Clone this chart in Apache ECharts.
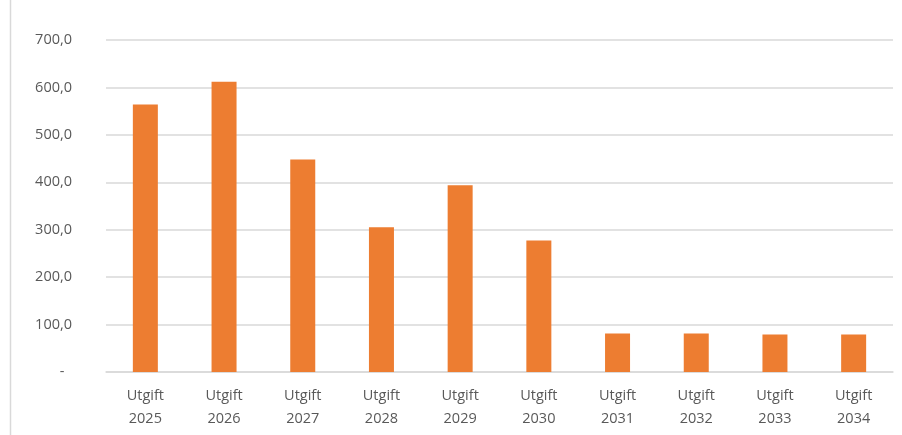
<!DOCTYPE html>
<html>
<head>
<meta charset="utf-8">
<script src="https://cdn.jsdelivr.net/npm/echarts@6/dist/echarts.min.js"></script>
<style>
html,body{margin:0;padding:0;background:#fff;}
#c{width:902px;height:435px;}
</style>
</head>
<body>
<div id="c"></div>
<script>
const categories = ['Utgift\n2025','Utgift\n2026','Utgift\n2027','Utgift\n2028','Utgift\n2029','Utgift\n2030','Utgift\n2031','Utgift\n2032','Utgift\n2033','Utgift\n2034'];
const values = [564, 612, 448, 305, 394, 277, 81, 81, 79, 79];

const chart = echarts.init(document.getElementById('c'), null, {renderer: 'canvas'});
chart.setOption({
  animation: false,
  backgroundColor: '#fff',
  graphic: [{
    type: 'line',
    shape: {x1: 10.5, y1: 0, x2: 10.5, y2: 435},
    style: {stroke: '#d9d9d9', lineWidth: 1.5}
  }],
  grid: {left: 106, right: 9, top: 40, bottom: 63},
  xAxis: {
    type: 'category',
    data: categories,
    axisLine: {show: true, lineStyle: {color: '#d9d9d9', width: 1.5}},
    axisTick: {show: false},
    axisLabel: {
      color: '#595959',
      fontFamily: 'Open Sans, Liberation Sans, sans-serif',
      fontSize: 14.5,
      lineHeight: 23,
      margin: 12
    }
  },
  yAxis: {
    type: 'value',
    min: 0, max: 700, interval: 100,
    axisLine: {show: false},
    axisTick: {show: false},
    splitLine: {lineStyle: {color: '#d9d9d9', width: 1.5}},
    axisLabel: {
      color: '#595959',
      fontFamily: 'Open Sans, Liberation Sans, sans-serif',
      fontSize: 14.5,
      margin: 34,
      formatter: function (v) {
        return v === 0 ? '-  ' : v.toFixed(1).replace('.', ',');
      }
    }
  },
  series: [{
    type: 'bar',
    data: values,
    barWidth: 25,
    itemStyle: {color: '#ED7D31'}
  }]
});
</script>
</body>
</html>
